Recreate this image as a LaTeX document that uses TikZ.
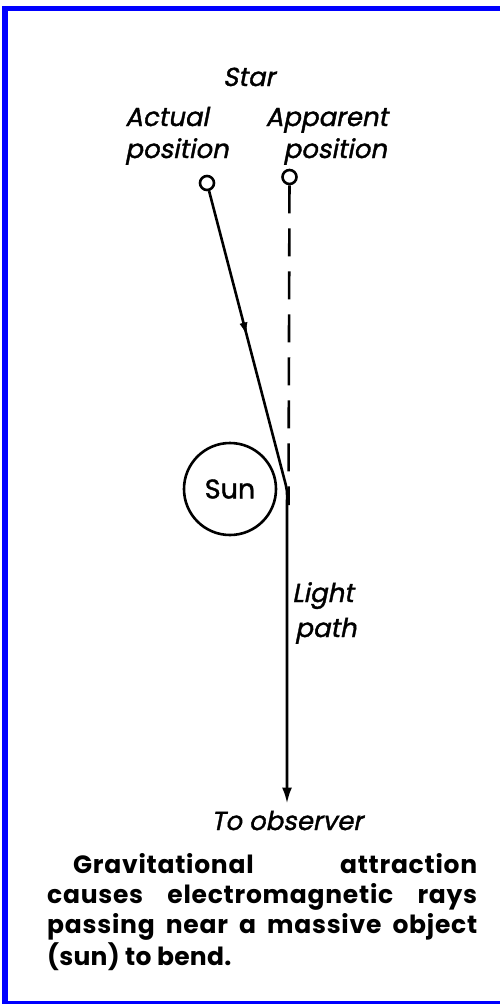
\documentclass[tikz,border=0pt]{standalone}
\usepackage{fontspec}
\setmainfont{Poppins}
\newfontfamily\labfont{Poppins}[FakeSlant=0.2,FakeBold=1.4]
\newfontfamily\sunfont{Poppins}[FakeBold=1.4]
\newfontfamily\capfont{Poppins}[BoldFont={* Bold},LetterSpace=3]
\newfontfamily\capfontb{Poppins}[BoldFont={* Bold},LetterSpace=1]
\usetikzlibrary{arrows.meta,decorations.markings}
\begin{document}
\begin{tikzpicture}[x=1pt,y=-1pt,
  lab/.style={font=\labfont\fontsize{26}{26}\selectfont, inner sep=0pt},
  starpt/.style={circle, draw, line width=2.6pt, minimum size=14pt, inner sep=0pt},
  ray/.style={line width=2.6pt},
  capline/.style={font=\capfont\bfseries\fontsize{25}{25}\selectfont, inner sep=0pt, anchor=base west},
  frame/.style={fill={rgb,255:red,0;green,0;blue,255}}
]
\useasboundingbox (0,0) rectangle (500,1005);
% frame
\fill[frame] (2,6) rectangle (500,11);
\fill[frame] (2,6) rectangle (8,1004);
\fill[frame] (2,1001) rectangle (500,1004);
% labels
\node[lab, anchor=base] (star) at (249,86) {Star};
\node[lab, anchor=base west] (act1) at (125,126) {Actual};
\node[lab, anchor=base west] (act2) at (125,158) {position};
\node[lab, anchor=base east] (app1) at (388,126) {Apparent};
\node[lab, anchor=base east] (app2) at (387,158) {position};
\node[starpt] (act) at (207,183) {};
\node[starpt] (app) at (289.5,177) {};
\node[circle, draw, line width=2.6pt, minimum size=92pt, inner sep=0pt,
      font=\sunfont\fontsize{27}{27}\selectfont] (sun) at (230,489) {Sun};
\node[lab, anchor=base west] (light) at (292,602) {Light};
\node[lab, anchor=base west] (pathl) at (295,637) {path};
\node[lab, anchor=base] (obs) at (287,830) {To observer};
% light path
\coordinate (b1) at (284,478);
\coordinate (b2) at (287,503);
\coordinate (dend) at (288.5,505);
\coordinate (tip) at ([yshift=7pt]obs.north);
\draw[ray, -{Latex[length=16pt,width=10pt]}] (act) -- (b1) .. controls (287.2,490) .. (b2) -- (tip);
\path[decoration={markings, mark=at position 0.5 with {\arrow{Latex[length=12pt,width=8pt]}}}, postaction=decorate] (act) -- (b1);
\draw[ray, dash pattern=on 28pt off 15pt] (app) -- (dend);
% caption
\node[capline] (c1) at (47,873) {\hbox to 430pt{\hspace*{26pt}Gravitational\hfill attraction}};
\node[capline] (c2) at (47,903) {\hbox to 430pt{causes\hfill electromagnetic\hfill rays}};
\node[capline] (c3) at (47,933) {\hbox to 430pt{passing\hfill near\hfill a\hfill massive\hfill object}};
\node[capline, font=\capfontb\bfseries\fontsize{25}{25}\selectfont] (c4) at (47,965) {(sun) to bend.};
\end{tikzpicture}
\end{document}
